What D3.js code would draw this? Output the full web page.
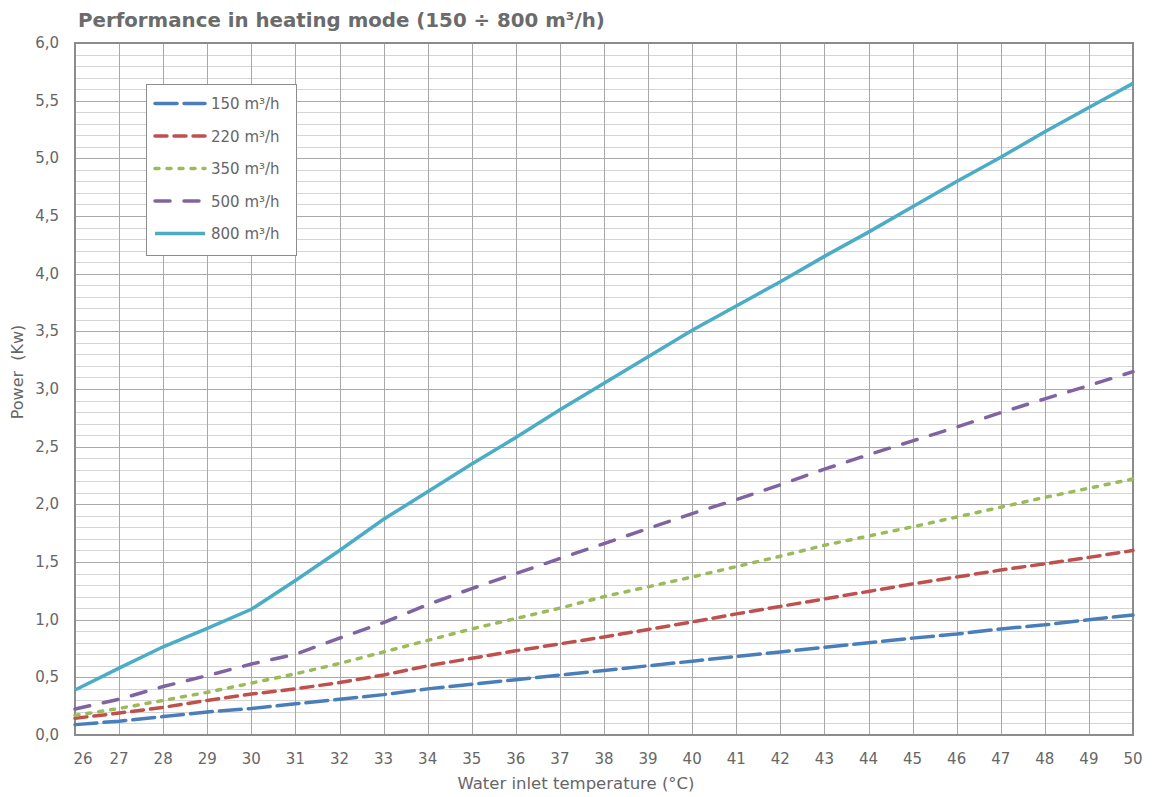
<!DOCTYPE html>
<html>
<head>
<meta charset="utf-8">
<script src="https://cdn.jsdelivr.net/npm/d3@7"></script>
<style>
  body { margin: 0; background: #fff; }
  text { font-family: "DejaVu Sans", sans-serif; fill: #666; white-space: pre; }
</style>
</head>
<body>
<div id="chart"></div>
<script>
// data
const temps = d3.range(26, 51);
const flow150 = [0.09, 0.12, 0.16, 0.20, 0.23, 0.27, 0.31, 0.35, 0.40, 0.44, 0.48, 0.52, 0.56, 0.60, 0.64, 0.68, 0.72, 0.76, 0.80, 0.84, 0.875, 0.92, 0.955, 1.0, 1.04];
const flow220 = [0.145, 0.19, 0.24, 0.30, 0.355, 0.40, 0.455, 0.52, 0.60, 0.665, 0.73, 0.79, 0.85, 0.915, 0.98, 1.05, 1.115, 1.18, 1.245, 1.31, 1.37, 1.43, 1.485, 1.54, 1.60];
const flow350 = [0.17, 0.23, 0.30, 0.37, 0.45, 0.53, 0.62, 0.72, 0.82, 0.92, 1.01, 1.10, 1.20, 1.285, 1.37, 1.46, 1.55, 1.645, 1.725, 1.805, 1.89, 1.975, 2.06, 2.14, 2.22];
const flow500 = [0.225, 0.31, 0.42, 0.515, 0.615, 0.70, 0.84, 0.975, 1.13, 1.27, 1.40, 1.53, 1.66, 1.79, 1.92, 2.04, 2.17, 2.305, 2.43, 2.55, 2.67, 2.795, 2.915, 3.03, 3.15];
const flow800 = [0.39, 0.58, 0.765, 0.925, 1.09, 1.34, 1.60, 1.87, 2.11, 2.35, 2.58, 2.82, 3.05, 3.28, 3.51, 3.72, 3.93, 4.15, 4.36, 4.58, 4.80, 5.01, 5.23, 5.44, 5.65];
const seriesNames = ["150 m³/h", "220 m³/h", "350 m³/h", "500 m³/h", "800 m³/h"];
const yTicks = d3.range(0, 6.01, 0.5);

const series = [
  { name: seriesNames[0], values: flow150, color: "#4a7ebb", dash: "22 7" },
  { name: seriesNames[1], values: flow220, color: "#c0504d", dash: "12 7" },
  { name: seriesNames[2], values: flow350, color: "#9bbb59", dash: "4 8" },
  { name: seriesNames[3], values: flow500, color: "#8064a2", dash: "15 14" },
  { name: seriesNames[4], values: flow800, color: "#4bacc6", dash: null }
];

const width = 1154, height = 797;
const margin = { top: 43, right: 21, bottom: 62, left: 75 };

const svg = d3.select("#chart").append("svg")
  .attr("width", width)
  .attr("height", height);

const x = d3.scaleLinear().domain([26, 50]).range([margin.left, width - margin.right]);
const y = d3.scaleLinear().domain([0, 6]).range([height - margin.bottom, margin.top]);

// minor grid every 0.1
svg.append("g")
  .selectAll("line")
  .data(d3.range(1, 60).filter(i => i % 5 !== 0).map(i => i / 10))
  .join("line")
  .attr("x1", x(26)).attr("x2", x(50))
  .attr("y1", d => Math.round(y(d)) + 0.5).attr("y2", d => Math.round(y(d)) + 0.5)
  .attr("stroke", "#d4d4d4");

// vertical grid
svg.append("g")
  .selectAll("line")
  .data(temps)
  .join("line")
  .attr("x1", d => Math.round(x(d)) + 0.5).attr("x2", d => Math.round(x(d)) + 0.5)
  .attr("y1", y(0)).attr("y2", y(6))
  .attr("stroke", "#a8a8a8");

// major grid every 0.5
svg.append("g")
  .selectAll("line")
  .data(yTicks)
  .join("line")
  .attr("x1", x(26)).attr("x2", x(50))
  .attr("y1", d => Math.round(y(d)) + 0.5).attr("y2", d => Math.round(y(d)) + 0.5)
  .attr("stroke", "#a8a8a8");

// plot border
svg.append("rect")
  .attr("x", x(26)).attr("y", y(6))
  .attr("width", x(50) - x(26)).attr("height", y(0) - y(6))
  .attr("fill", "none")
  .attr("stroke", "#8c8c8c")
  .attr("stroke-width", 2);

// axes labels
const fmt = d => d.toFixed(1).replace(".", ",");
svg.append("g")
  .selectAll("text")
  .data(yTicks)
  .join("text")
  .attr("x", 59)
  .attr("y", d => y(d) + 5)
  .attr("text-anchor", "end")
  .style("font-size", "15px")
  .text(fmt);

svg.append("g")
  .selectAll("text")
  .data(temps)
  .join("text")
  .attr("x", d => x(d) + (d === 26 ? 8 : 0))
  .attr("y", 764)
  .attr("text-anchor", "middle")
  .style("font-size", "15px")
  .text(d => d);

svg.append("text")
  .attr("x", 576).attr("y", 789)
  .attr("text-anchor", "middle")
  .style("font-size", "16.5px")
  .text("Water inlet temperature (°C)");

svg.append("text")
  .attr("transform", "translate(23,372) rotate(-90)")
  .attr("text-anchor", "middle")
  .style("font-size", "16px")
  .text("Power  (Kw)");

svg.append("text")
  .attr("x", 78).attr("y", 27)
  .style("font-size", "19.8px")
  .style("font-weight", "bold")
  .style("fill", "#6b6b6b")
  .text("Performance in heating mode (150 ÷ 800 m³/h)");

// lines
const line = d3.line()
  .x((d, i) => x(temps[i]))
  .y(d => y(d));

svg.append("g")
  .selectAll("path")
  .data(series)
  .join("path")
  .attr("d", d => line(d.values))
  .attr("fill", "none")
  .attr("stroke", d => d.color)
  .attr("stroke-width", 3.5)
  .attr("stroke-linecap", d => d.dash ? "round" : "butt")
  .attr("stroke-dasharray", d => d.dash);

// legend
const legend = svg.append("g");
legend.append("rect")
  .attr("x", 146.5).attr("y", 84.5)
  .attr("width", 150).attr("height", 171)
  .attr("fill", "#fff")
  .attr("stroke", "#8c8c8c");

const item = legend.selectAll("g.item")
  .data(series)
  .join("g")
  .attr("class", "item")
  .attr("transform", (d, i) => `translate(0,${103.5 + i * 32.5})`);

item.append("line")
  .attr("x1", 155).attr("x2", 205)
  .attr("stroke", d => d.color)
  .attr("stroke-width", 3.5)
  .attr("stroke-linecap", d => d.dash ? "round" : "butt")
  .attr("stroke-dasharray", d => d.dash);

item.append("text")
  .attr("x", 211).attr("y", 5.5)
  .style("font-size", "15px")
  .text(d => d.name);
</script>
</body>
</html>
